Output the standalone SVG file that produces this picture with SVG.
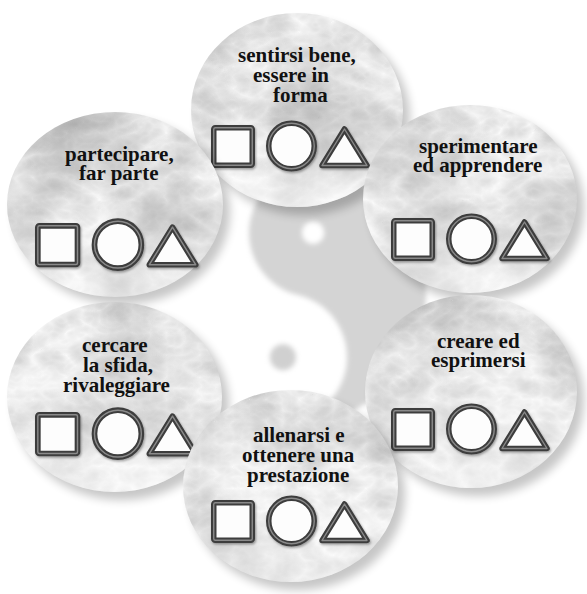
<svg xmlns="http://www.w3.org/2000/svg" xmlns:xlink="http://www.w3.org/1999/xlink" width="587" height="594" viewBox="0 0 587 594">
<defs>
  <style>
    .lbl { font-family: "Liberation Serif", "Times New Roman", serif; font-weight: bold; font-size: 21px; fill: #111; }
    .disc { fill: #000; filter: url(#marble); }
    .shade { fill: url(#sheen); }
    .shadow { fill: #000; opacity: 0.22; filter: url(#blur5); }
    .symOuter { fill: #fdfdfd; stroke: #3c3c3c; stroke-width: 5.5; stroke-linejoin: round; filter: url(#symShadow); }
    .symInner { fill: none; stroke: #8a8a8a; stroke-width: 1.4; stroke-linejoin: round; }
  </style>
  <filter id="marble" x="0" y="0" width="1" height="1" color-interpolation-filters="sRGB">
    <feFlood flood-color="#f9f9f9" result="base"/>
    <feTurbulence type="fractalNoise" baseFrequency="0.011" numOctaves="2" seed="3" result="n1"/>
    <feColorMatrix in="n1" type="matrix" values="0 0 0 0 0  0 0 0 0 0  0 0 0 0 0  0.45 0 0 0 -0.17" result="d1"/>
    <feTurbulence type="turbulence" baseFrequency="0.03 0.045" numOctaves="3" seed="9" result="n2"/>
    <feColorMatrix in="n2" type="matrix" values="0 0 0 0 0  0 0 0 0 0  0 0 0 0 0  0.18 0 0 0 0" result="d2"/>
    <feMerge result="m"><feMergeNode in="base"/><feMergeNode in="d1"/><feMergeNode in="d2"/></feMerge>
    <feComposite in="m" in2="SourceGraphic" operator="in"/>
  </filter>
  <filter id="blur5" x="-20%" y="-20%" width="140%" height="140%">
    <feGaussianBlur stdDeviation="5"/>
  </filter>
  <filter id="soft" x="-20%" y="-20%" width="140%" height="140%">
    <feGaussianBlur stdDeviation="2.5"/>
  </filter>
  <filter id="symShadow" x="-20%" y="-20%" width="140%" height="140%">
    <feDropShadow dx="1" dy="1.5" stdDeviation="1" flood-color="#000" flood-opacity="0.35"/>
  </filter>
  <linearGradient id="sheen" x1="0" y1="0" x2="0" y2="1">
    <stop offset="0" stop-color="#fff" stop-opacity="0"/>
    <stop offset="0.55" stop-color="#fff" stop-opacity="0.1"/>
    <stop offset="1" stop-color="#fff" stop-opacity="0.5"/>
  </linearGradient>
  <g id="sym">
    <rect x="2.75" y="2.75" width="38.5" height="37.5" rx="1.5"/>
    <circle cx="80.5" cy="21" r="22.75"/>
    <path d="M133.5,4 L156,40.5 L111,40.5 Z"/>
  </g>
</defs>

<rect width="587" height="594" fill="#fff"/>

<g id="yinyang" transform="translate(298,295) rotate(13.6)" filter="url(#soft)">
  <path d="M0,-128 A128,128 0 0 1 0,128 A64,64 0 0 0 0,0 A64,64 0 0 1 0,-128 Z" fill="#d4d4d4"/>
  <circle cx="0" cy="-64" r="11" fill="#fff"/>
  <circle cx="0" cy="64" r="13" fill="#d0d0d0"/>
</g>

<g id="node-sentirsi">
  <ellipse class="shadow" cx="304" cy="118" rx="106" ry="97"/>
  <ellipse class="disc" cx="297" cy="110" rx="106" ry="97"/>
  <ellipse class="shade" cx="297" cy="110" rx="106" ry="97"/>
  <text class="lbl"><tspan x="238" y="62">sentirsi bene,</tspan><tspan x="253" y="82">essere in</tspan><tspan x="273" y="102">forma</tspan></text>
  <g transform="translate(211,125)"><use href="#sym" class="symOuter"/><use href="#sym" class="symInner"/></g>
</g>

<g id="node-partecipare">
  <ellipse class="shadow" cx="122" cy="212" rx="108" ry="92.5"/>
  <ellipse class="disc" cx="115" cy="204.5" rx="108" ry="92.5"/>
  <ellipse class="shade" cx="115" cy="204.5" rx="108" ry="92.5"/>
  <text class="lbl"><tspan x="65" y="161">partecipare,</tspan><tspan x="79" y="180">far parte</tspan></text>
  <g transform="translate(35,223) scale(1.03)"><use href="#sym" class="symOuter"/><use href="#sym" class="symInner"/></g>
</g>

<g id="node-sperimentare">
  <ellipse class="shadow" cx="477" cy="207" rx="107" ry="94"/>
  <ellipse class="disc" cx="470" cy="199" rx="107" ry="94"/>
  <ellipse class="shade" cx="470" cy="199" rx="107" ry="94"/>
  <text class="lbl"><tspan x="419" y="153">sperimentare</tspan><tspan x="413" y="172">ed apprendere</tspan></text>
  <g transform="translate(391,218)"><use href="#sym" class="symOuter"/><use href="#sym" class="symInner"/></g>
</g>

<g id="node-cercare">
  <ellipse class="shadow" cx="121.5" cy="405" rx="107.5" ry="95"/>
  <ellipse class="disc" cx="114.5" cy="397" rx="107.5" ry="95"/>
  <ellipse class="shade" cx="114.5" cy="397" rx="107.5" ry="95"/>
  <text class="lbl"><tspan x="82" y="352">cercare</tspan><tspan x="83" y="372">la sfida,</tspan><tspan x="63" y="392">rivaleggiare</tspan></text>
  <g transform="translate(35,412) scale(1.03)"><use href="#sym" class="symOuter"/><use href="#sym" class="symInner"/></g>
</g>

<g id="node-creare">
  <ellipse class="shadow" cx="478" cy="399.5" rx="106" ry="96.5"/>
  <ellipse class="disc" cx="471" cy="391.5" rx="106" ry="96.5"/>
  <ellipse class="shade" cx="471" cy="391.5" rx="106" ry="96.5"/>
  <text class="lbl"><tspan x="437" y="348">creare ed</tspan><tspan x="431" y="367">esprimersi</tspan></text>
  <g transform="translate(391,408)"><use href="#sym" class="symOuter"/><use href="#sym" class="symInner"/></g>
</g>

<g id="node-allenarsi">
  <ellipse class="shadow" cx="297.5" cy="494" rx="107.5" ry="96"/>
  <ellipse class="disc" cx="290.5" cy="486" rx="107.5" ry="96"/>
  <ellipse class="shade" cx="290.5" cy="486" rx="107.5" ry="96"/>
  <text class="lbl"><tspan x="253" y="442">allenarsi e</tspan><tspan x="242" y="462">ottenere una</tspan><tspan x="247" y="482">prestazione</tspan></text>
  <g transform="translate(211,500)"><use href="#sym" class="symOuter"/><use href="#sym" class="symInner"/></g>
</g>
</svg>
